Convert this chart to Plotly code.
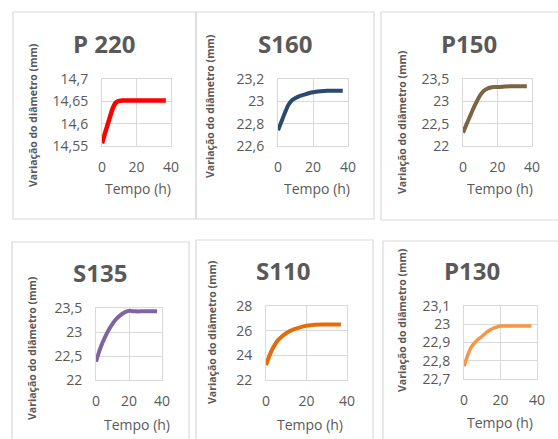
import plotly.graph_objects as go

# ---------------- data ----------------
titles = ["P 220", "S160", "P150", "S135", "S110", "P130"]
time_h = [0, 2, 4, 6, 8, 10, 12, 14, 16, 18, 20, 24, 28, 32, 37]

d_p220 = [14.556, 14.582, 14.607, 14.632, 14.647, 14.651, 14.652, 14.652, 14.652, 14.652, 14.652, 14.652, 14.652, 14.652, 14.652]
d_s160 = [22.74, 22.82, 22.9, 22.97, 23.01, 23.03, 23.045, 23.055, 23.065, 23.075, 23.082, 23.09, 23.095, 23.095, 23.095]
d_p150 = [22.3, 22.48, 22.66, 22.84, 23.0, 23.14, 23.23, 23.28, 23.31, 23.32, 23.32, 23.33, 23.34, 23.34, 23.34]
d_s135 = [22.38, 22.6, 22.78, 22.93, 23.06, 23.17, 23.26, 23.33, 23.38, 23.42, 23.44, 23.43, 23.43, 23.43, 23.43]
d_s110 = [23.2, 24.1, 24.75, 25.25, 25.55, 25.8, 25.98, 26.12, 26.23, 26.33, 26.4, 26.48, 26.5, 26.5, 26.5]
d_p130 = [22.77, 22.83, 22.875, 22.9, 22.92, 22.935, 22.953, 22.967, 22.978, 22.985, 22.99, 22.99, 22.99, 22.99, 22.99]
series = [d_p220, d_s160, d_p150, d_s135, d_s110, d_p130]

y_ranges = [[14.55, 14.7], [22.6, 23.2], [22, 23.5], [22, 23.5], [22, 28], [22.7, 23.1]]
y_tickvals = [
    [14.55, 14.6, 14.65, 14.7],
    [22.6, 22.8, 23.0, 23.2],
    [22.0, 22.5, 23.0, 23.5],
    [22.0, 22.5, 23.0, 23.5],
    [22, 24, 26, 28],
    [22.7, 22.8, 22.9, 23.0, 23.1],
]
y_ticktext = [
    ["14,55", "14,6", "14,65", "14,7"],
    ["22,6", "22,8", "23", "23,2"],
    ["22", "22,5", "23", "23,5"],
    ["22", "22,5", "23", "23,5"],
    ["22", "24", "26", "28"],
    ["22,7", "22,8", "22,9", "23", "23,1"],
]
x_tickvals = [0, 20, 40]
x_ticktext = ["0", "20", "40"]
y_titles = ["Variação do diâmetro (mm)"] * 6
x_title = "Tempo (h)"

colors = ["#ff0000", "#2b4a6f", "#7a6443", "#8064a2", "#e46c0a", "#f79646"]
widths = [4.5, 4, 4, 4, 4, 3.5]

# ---------------- layout geometry (pixels) ----------------
W, H = 558, 439
plot_boxes = [  # x0, x1, y0(top), y1(bottom)
    (102, 171, 79, 146),
    (278, 348, 79, 146),
    (463, 532, 79, 146),
    (96, 162, 308, 380),
    (266, 347, 306, 380),
    (464, 537, 306, 379),
]
panel_boxes = [
    (13, 196, 12, 219),
    (196, 374, 12, 219),
    (381, 600, 12, 220),
    (12, 189, 242, 480),
    (196, 373, 240, 480),
    (383, 600, 241, 480),
]
title_pos = [(104, 43), (285, 43), (469, 43), (100, 272), (283, 270), (472, 270)]
ytitle_pos = [(33, 115), (210, 106), (402, 122), (32, 348), (212, 332), (402, 320)]
xtitle_pos = [(138, 188), (317, 188), (500, 188), (137, 424), (310, 424), (500, 422)]


def px(x):
    return x / W


def py(y):
    return 1 - y / H


TXT = "#595959"
GRID = "#d9d9d9"
FONT = "Open Sans"

fig = go.Figure()
annotations = []
shapes = []
for i in range(6):
    n = "" if i == 0 else str(i + 1)
    fig.add_trace(go.Scatter(
        x=time_h, y=series[i], mode="lines",
        line=dict(color=colors[i], width=widths[i], shape="spline", smoothing=0.6),
        xaxis="x" + n, yaxis="y" + n, showlegend=False, hoverinfo="x+y",
    ))
    x0, x1, y0, y1 = plot_boxes[i]
    fig.update_layout(**{
        "xaxis" + n: dict(
            domain=[px(x0), px(x1)], range=[0, 40], anchor="y" + n,
            tickvals=x_tickvals, ticktext=x_ticktext,
            showgrid=True, gridcolor=GRID, gridwidth=1,
            zeroline=False, showline=True, mirror=True, linecolor=GRID, linewidth=1,
            ticks="", ticklabelstandoff=8, automargin=False,
            tickfont=dict(family=FONT, size=14, color=TXT), fixedrange=True,
        ),
        "yaxis" + n: dict(
            domain=[py(y1), py(y0)], range=y_ranges[i], anchor="x" + n,
            tickvals=y_tickvals[i], ticktext=y_ticktext[i],
            showgrid=True, gridcolor=GRID, gridwidth=1,
            zeroline=False, showline=True, mirror=True, linecolor=GRID, linewidth=1,
            ticks="", ticklabelstandoff=10, automargin=False,
            tickfont=dict(family=FONT, size=14, color=TXT), fixedrange=True,
        ),
    })
    bx0, bx1, by0, by1 = panel_boxes[i]
    shapes.append(dict(type="rect", xref="paper", yref="paper",
                       x0=px(bx0), x1=px(min(bx1, W + 2)), y0=py(min(by1, H + 2)), y1=py(by0),
                       line=dict(color=GRID, width=1.2), fillcolor="rgba(0,0,0,0)", layer="below"))
    tx, ty = title_pos[i]
    annotations.append(dict(text="<b>" + titles[i] + "</b>", x=px(tx), y=py(ty),
                            xref="paper", yref="paper", showarrow=False,
                            xanchor="center", yanchor="middle",
                            font=dict(family=FONT, size=24, color=TXT)))
    yx, yy = ytitle_pos[i]
    annotations.append(dict(text="<b>" + y_titles[i] + "</b>", x=px(yx), y=py(yy),
                            xref="paper", yref="paper", showarrow=False, textangle=-90,
                            xanchor="center", yanchor="middle",
                            font=dict(family=FONT, size=10.5, color=TXT)))
    xx, xy = xtitle_pos[i]
    annotations.append(dict(text=x_title, x=px(xx), y=py(xy),
                            xref="paper", yref="paper", showarrow=False,
                            xanchor="center", yanchor="middle",
                            font=dict(family=FONT, size=14, color=TXT)))

fig.update_layout(
    width=W, height=H, margin=dict(l=0, r=0, t=0, b=0, autoexpand=False),
    paper_bgcolor="white", plot_bgcolor="white",
    annotations=annotations, shapes=shapes, showlegend=False,
)

# remove the browser's default 8px body margin so the figure sits at the page origin
fig.write_html("out.html", config={"displayModeBar": False},
               post_script="document.body.style.margin='0';")
